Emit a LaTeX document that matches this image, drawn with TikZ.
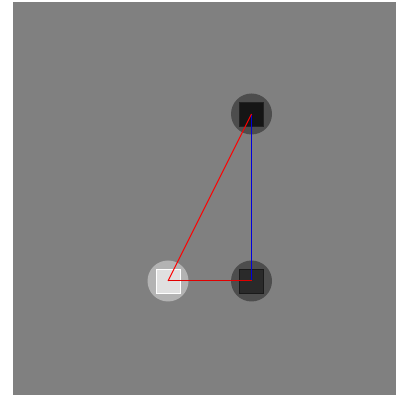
\documentclass[tikz,border=0pt]{standalone}
\definecolor{bgray}{RGB}{128,128,128}
\definecolor{halodark}{RGB}{77,77,77}
\definecolor{halolight}{RGB}{179,179,179}
\definecolor{boxtop}{RGB}{21,21,21}
\definecolor{boxtopline}{RGB}{34,34,34}
\definecolor{boxleft}{RGB}{224,224,224}
\definecolor{boxright}{RGB}{42,42,42}
\definecolor{boxrightline}{RGB}{26,26,26}
\definecolor{linkred}{RGB}{255,0,0}
\definecolor{linkblue}{RGB}{0,0,220}
\definecolor{linkdred}{RGB}{225,0,0}
\begin{document}
\begin{tikzpicture}[x=1pt,y=1pt,
  halo/.style={circle,minimum size=41pt,inner sep=0pt,draw=none},
  box/.style={minimum size=24pt,inner sep=0pt,line width=0.9pt},
  link/.style={line width=1pt}]
\useasboundingbox (0,0) rectangle (396,395);
\fill[white] (0,0) rectangle (396,395);
\fill[bgray] (13,0) rectangle (396,393);
% halos
\node[halo,fill=halodark] (ht) at (251.5,281) {};
\node[halo,fill=halolight] (hl) at (168,114) {};
\node[halo,fill=halodark] (hr) at (251.5,114) {};
% squares
\node[box,fill=boxtop,draw=boxtopline] (ntop) at (251.5,281) {};
\node[box,fill=boxleft,draw=white] (nleft) at (168,114) {};
\node[box,fill=boxright,draw=boxrightline] (nright) at (251.5,114) {};
% edges
\draw[link,draw=linkblue] ([xshift=0.2pt]nright.center) -- ([xshift=0.2pt]ntop.center);
\draw[link,draw=linkred] (nleft.center) -- (ntop.center);
\draw[link,draw=linkdred] (nleft.center) -- (nright.center);
\end{tikzpicture}
\end{document}
